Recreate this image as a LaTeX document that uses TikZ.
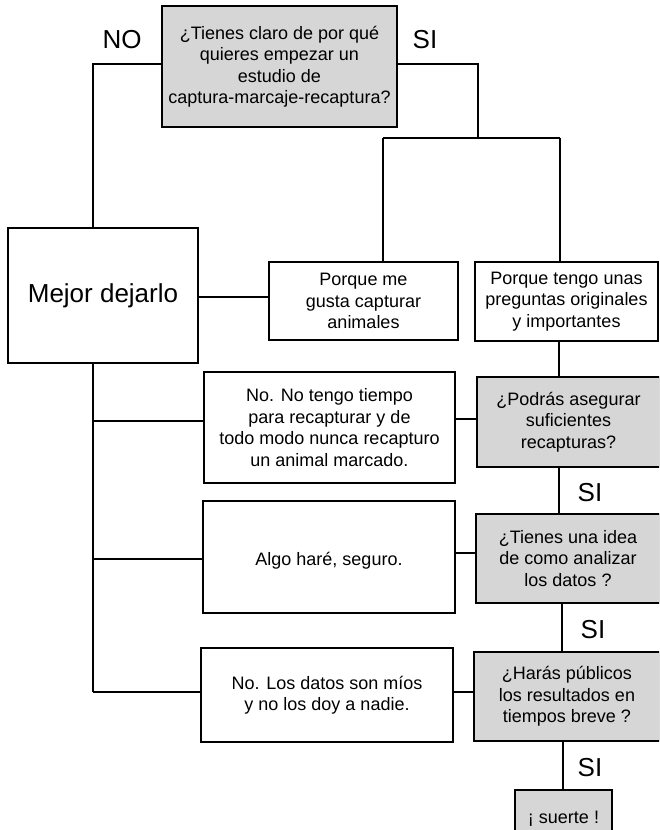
\documentclass[tikz,border=0pt]{standalone}
\usepackage{fontspec}
\setmainfont{Liberation Sans}
\definecolor{qgray}{HTML}{D6D6D6}
\begin{document}
\begin{tikzpicture}[x=1pt,y=-1pt,
  box/.style={draw, line width=1.3pt, inner sep=0pt, align=center,
    font=\fontsize{18}{21.5}\selectfont},
  qbox/.style={box, fill=qgray},
  dn/.style={execute at begin node={\rule{0pt}{#1}}},
  lbl/.style={font=\fontsize{26}{28}\selectfont, inner sep=0pt},
  conn/.style={line width=1.3pt}]
\useasboundingbox (0,0) rectangle (659,830);
\clip (0,0) rectangle (659,830);
% boxes
\node[qbox, dn=21pt, minimum width=235pt, minimum height=121pt] (q1) at (279.5,66.5)
  {¿Tienes claro de por qué\\quieres empezar un\\estudio de\\captura-marcaje-recaptura?};
\node[box, minimum width=190pt, minimum height=135pt, font=\fontsize{26}{30}\selectfont] (mejor) at (103,295.5) {Mejor dejarlo};
\node[box, dn=17pt, minimum width=189pt, minimum height=78pt] (gusta) at (363.5,301) {Porque me\\gusta capturar\\animales};
\node[box, dn=17pt, minimum width=183pt, minimum height=79pt] (orig) at (566.5,301.5) {Porque tengo unas\\preguntas originales\\y importantes};
\node[qbox, dn=25pt, minimum width=183pt, minimum height=90pt] (q2) at (568.5,422) {¿Podrás asegurar\\suficientes\\recapturas?};
\node[box, minimum width=251pt, minimum height=111pt] (n2) at (329.5,427.5) {No. No tengo tiempo\\para recapturar y de\\todo modo nunca recapturo\\un animal marcado.};
\node[qbox, dn=20pt, minimum width=184pt, minimum height=89pt] (q3) at (568,558.5) {¿Tienes una idea\\de como analizar\\los datos ?};
\node[box, dn=21pt, minimum width=252pt, minimum height=112pt] (n3) at (329,557) {Algo haré, seguro.};
\node[qbox, dn=19pt, minimum width=186pt, minimum height=89pt] (q4) at (567,696.5) {¿Harás públicos\\los resultados en\\tiempos breve ?};
\node[box, minimum width=252pt, minimum height=94pt] (n4) at (327,695) {No. Los datos son míos\\y no los doy a nadie.};
\node[qbox, dn=21pt, minimum width=97pt, minimum height=48pt] (fin) at (563.5,814) {¡ suerte !};
% labels
\node[lbl] (lno) at (122,40) {NO};
\node[lbl] (lsi1) at (425,40) {SI};
\node[lbl] (lsi2) at (590,493) {SI};
\node[lbl] (lsi3) at (593,630) {SI};
\node[lbl] (lsi4) at (590,768) {SI};
% coordinates
\coordinate (cno) at (93,64);
\coordinate (csi) at (478,64);
\coordinate (csplit) at (478,138);
\coordinate (cl) at (383,138);
\coordinate (cr) at (560,138);
\coordinate (cm) at (93,363);
\coordinate (cbot) at (93,692);
% connectors
\draw[conn] (q1.west |- cno) -- (cno) -- (cno |- mejor.north);
\draw[conn] (q1.east |- csi) -- (csi) -- (csplit);
\draw[conn] (cl) -- (cr);
\draw[conn] (cl) -- (cl |- gusta.north);
\draw[conn] (cr) -- (cr |- orig.north);
\draw[conn] (mejor.east |- 0,297) -- (gusta.west |- 0,297);
\draw[conn] (cm) -- (cbot);
\draw[conn] (cm |- 0,421) -- (n2.west |- 0,421);
\draw[conn] (cm |- 0,559) -- (n3.west |- 0,559);
\draw[conn] (cbot) -- (n4.west |- cbot);
\draw[conn] (n2.east |- 0,419) -- (q2.west |- 0,419);
\draw[conn] (n3.east |- 0,553) -- (q3.west |- 0,553);
\draw[conn] (n4.east |- 0,692) -- (q4.west |- 0,692);
\draw[conn] (559,0 |- orig.south) -- (559,0 |- q2.north);
\draw[conn] (559,0 |- q2.south) -- (559,0 |- q3.north);
\draw[conn] (562,0 |- q3.south) -- (562,0 |- q4.north);
\draw[conn] (563,0 |- q4.south) -- (563,0 |- fin.north);
\end{tikzpicture}
\end{document}
